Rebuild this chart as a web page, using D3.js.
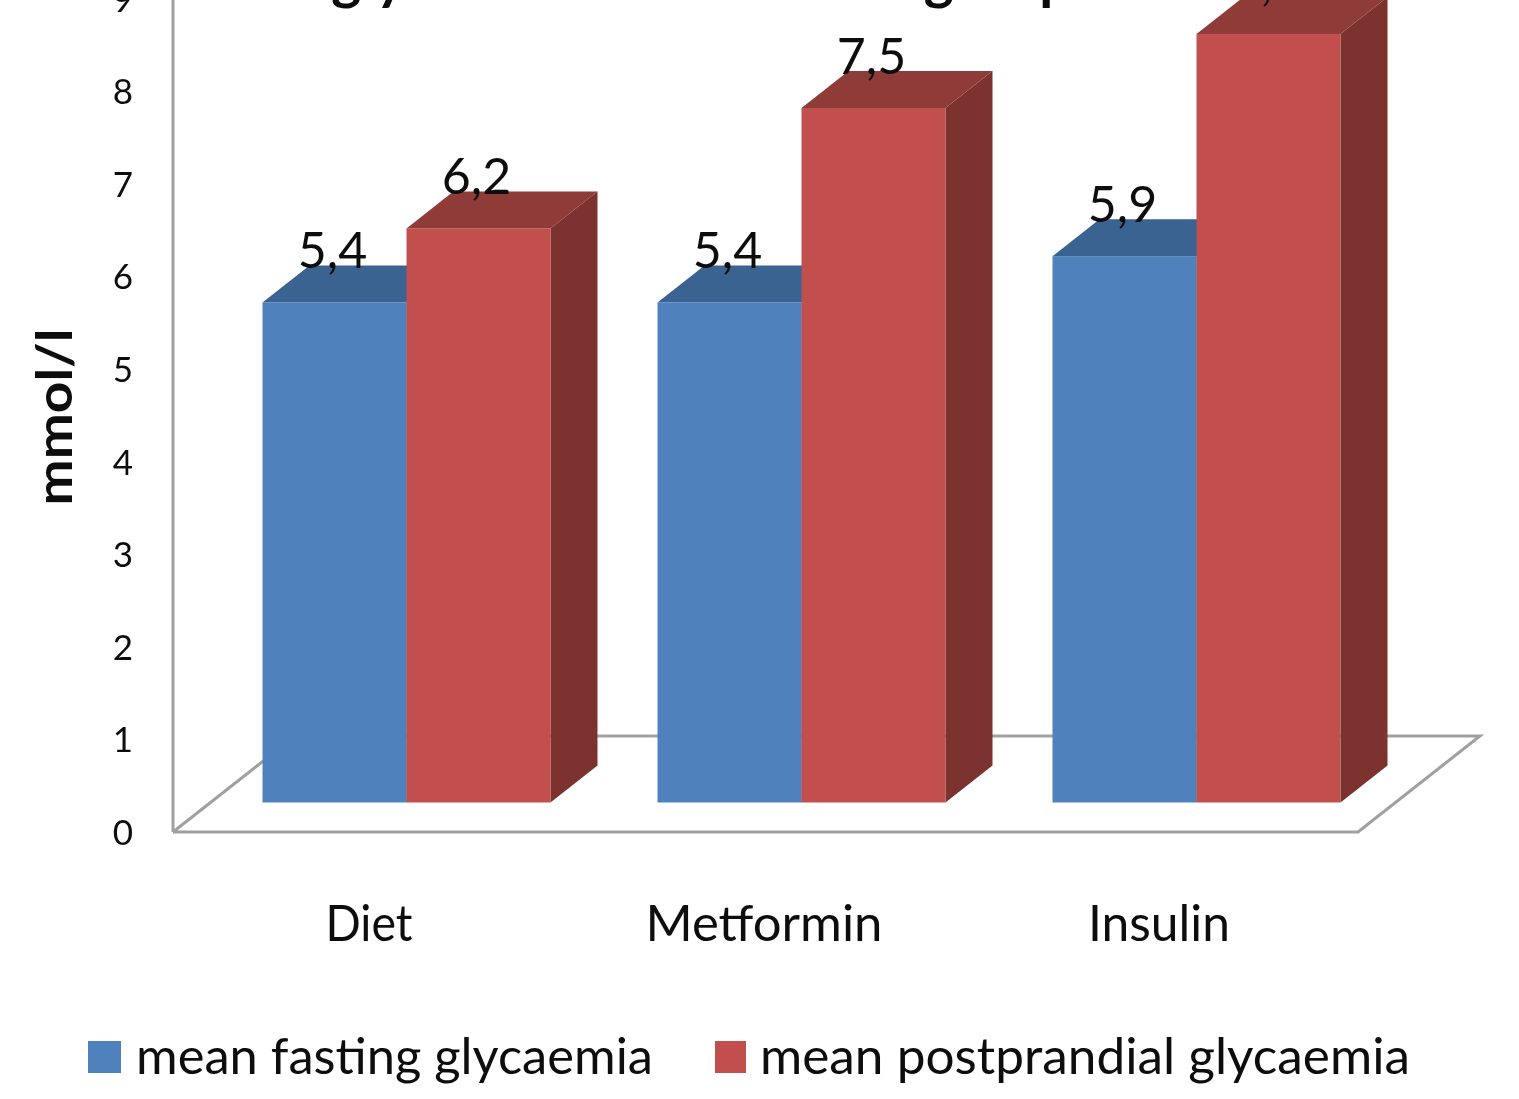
<!DOCTYPE html>
<html><head><meta charset="utf-8">
<script src="https://cdn.jsdelivr.net/npm/d3@7"></script>
<style>html,body{margin:0;padding:0;background:#fff;overflow:hidden}text{font-family:Lato,"Open Sans",sans-serif;fill:#111}</style>
</head><body><svg id="c" width="1519" height="1099"></svg>
<script>
const categories = ["Diet","Metformin","Insulin"];
const seriesNames = ["mean fasting glycaemia","mean postprandial glycaemia"];
const fasting = [5.4,5.4,5.9];
const postprandial = [6.2,7.5,8.3];
const yTicks = [0,1,2,3,4,5,6,7,8,9];
const titleText = "Mean glycaemia in treatment groups";
const yTitle = "mmol/l";
const categoryWidths = [87,237,142];
const legendWidths = [517,650];

const svg = d3.select("#c");
const soft = svg.append("defs").append("filter").attr("id","soft");
soft.append("feGaussianBlur").attr("stdDeviation",0.6);
const root = svg.append("g");

const front = {x0:173,x1:1358,y0:832};
const depth = {dx:122,dy:96};
const x = d3.scaleBand().domain(categories).range([front.x0,front.x1]);
const y = d3.scaleLinear().domain([0,9]).range([front.y0,front.y0-9*92.6]);
const barShift = {dx:38,dy:29.5};
const barDepth = {dx:47,dy:37};
const inner = d3.scaleBand().domain([0,1]).range([51.5,339.5]);
const colors = [
  {front:"#4f81bd",top:"#3b6392",side:"#2f5078"},
  {front:"#c0504d",top:"#8f3b39",side:"#7b302e"}
];
const line = d3.line();

root.append("path").attr("fill","none").attr("stroke","#a0a0a0").attr("stroke-width",3)
  .attr("d",line([[front.x0,front.y0],[front.x1,front.y0],[front.x1+depth.dx,front.y0-depth.dy],[front.x0+depth.dx,front.y0-depth.dy],[front.x0,front.y0]]));
root.append("path").attr("fill","none").attr("stroke","#a0a0a0").attr("stroke-width",3)
  .attr("d",line([[front.x0,front.y0],[front.x0,-2]]));

[fasting,postprandial].forEach((vals,s)=>{
  const g = root.append("g");
  categories.forEach((c,i)=>{
    const h = front.y0-y(vals[i]);
    const l = x(c)+barShift.dx+inner(s), w = inner.bandwidth();
    const b = front.y0-barShift.dy, t = b-h;
    const d = barDepth;
    g.append("path").attr("fill",colors[s].side)
      .attr("d",line([[l+w,t],[l+w+d.dx,t-d.dy],[l+w+d.dx,b-d.dy],[l+w,b]])+"Z");
    g.append("path").attr("fill",colors[s].top)
      .attr("d",line([[l,t],[l+d.dx,t-d.dy],[l+w+d.dx,t-d.dy],[l+w,t]])+"Z");
    g.append("rect").attr("x",l).attr("y",t).attr("width",w).attr("height",h).attr("fill",colors[s].front);
  });
});
[fasting,postprandial].forEach((vals,s)=>{
  categories.forEach((c,i)=>{
    const l = x(c)+barShift.dx+inner(s), w = inner.bandwidth();
    const t = front.y0-barShift.dy-(front.y0-y(vals[i]));
    root.append("text").attr("x",l+w/2-2).attr("y",t-34).attr("text-anchor","middle")
      .attr("font-size",50).text(String(vals[i]).replace(".",","));
  });
});

root.append("g").selectAll("text").data(yTicks).join("text")
  .attr("x",123).attr("y",d=>y(d)+13).attr("text-anchor","middle").attr("font-size",35).text(d=>d);
root.append("g").selectAll("text").data(categories).join("text")
  .attr("x",d=>x(d)+x.bandwidth()/2-1.5).attr("y",941).attr("text-anchor","middle").attr("font-size",50)
  .attr("textLength",(d,i)=>categoryWidths[i]).attr("lengthAdjust","spacingAndGlyphs").text(d=>d);
root.append("text").attr("transform","translate(72,417) rotate(-90)").attr("text-anchor","middle")
  .attr("font-size",50).attr("font-weight",700).attr("textLength",177).attr("lengthAdjust","spacingAndGlyphs").text(yTitle);
root.append("text").attr("x",173).attr("y",-2).attr("font-size",57).attr("font-weight",700).text(titleText);
const legendX = [{sw:88,w:33,tx:136},{sw:715,w:31,tx:760}];
seriesNames.forEach((n,i)=>{
  root.append("rect").attr("x",legendX[i].sw).attr("y",1041).attr("width",legendX[i].w).attr("height",32).attr("fill",colors[i].front);
  root.append("text").attr("x",legendX[i].tx).attr("y",1074).attr("font-size",50)
    .attr("textLength",legendWidths[i]).attr("lengthAdjust","spacingAndGlyphs").text(n);
});
root.attr("filter","url(#soft)");
</script></body></html>
